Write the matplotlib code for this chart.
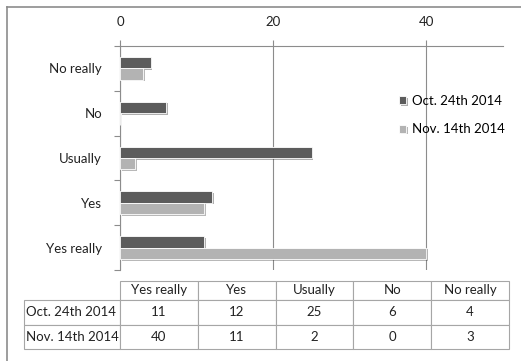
import matplotlib
matplotlib.use("Agg")
import matplotlib.pyplot as plt
import matplotlib.patheffects as pe
from matplotlib.lines import Line2D
import numpy as np

plt.rcParams["font.family"] = ["Lato", "DejaVu Sans"]

categories = ["Yes really", "Yes", "Usually", "No", "No really"]
series_names = ["Oct. 24th 2014", "Nov. 14th 2014"]
oct_values = [11, 12, 25, 6, 4]
nov_values = [40, 11, 2, 0, 3]
x_ticks = [0, 20, 40]

DARK = "#5c5c5c"
LIGHT = "#b3b3b3"
GRID = "#8c8c8c"
W, H = 521, 361

fig = plt.figure(figsize=(W / 100, H / 100), dpi=100)

# outer chart frame (only top and left edges are visible in the crop)
fig.add_artist(Line2D([7 / W, 1.0], [1 - 7 / H, 1 - 7 / H], color="#8c8c8c", lw=1.2))
fig.add_artist(Line2D([7 / W, 7 / W], [0.0, 1 - 7 / H], color="#8c8c8c", lw=1.2))

ax = fig.add_axes([120 / W, 1 - 270 / H, (503 - 120) / W, (270 - 46) / H])

y = np.arange(len(categories))
bh = 0.255
shadow = [pe.SimplePatchShadow(offset=(1.2, -1.2), alpha=0.35), pe.Normal()]
b1 = ax.barh(y + bh / 2, oct_values, height=bh, color=DARK, edgecolor="white", lw=0.6,
             label=series_names[0], zorder=3)
b2 = ax.barh(y - bh / 2, nov_values, height=bh, color=LIGHT, edgecolor="white", lw=0.6,
             label=series_names[1], zorder=3)
for bar in list(b1) + list(b2):
    if bar.get_width() > 0:
        bar.set_path_effects(shadow)

ax.set_xlim(0, 50)
ax.set_ylim(-0.5, len(categories) - 0.5)

ax.xaxis.tick_top()
ax.set_xticks(x_ticks)
ax.set_xticklabels([str(t) for t in x_ticks])
ax.tick_params(axis="x", direction="out", length=4, width=0.8, color=GRID, pad=9,
               labelsize=9.5, labelcolor="#222222")
ax.grid(axis="x", color=GRID, lw=0.8, zorder=0)

ax.set_yticks(np.arange(-0.5, len(categories), 1.0))
ax.set_yticklabels([])
ax.set_yticks(y, minor=True)
ax.set_yticklabels(categories, minor=True)
ax.tick_params(axis="y", which="major", direction="out", length=4, width=0.8, color=GRID)
ax.tick_params(axis="y", which="minor", length=0, pad=13, labelsize=9.5, labelcolor="#222222")

for side in ("right", "bottom"):
    ax.spines[side].set_visible(False)
for side in ("top", "left"):
    ax.spines[side].set_color(GRID)
    ax.spines[side].set_linewidth(0.8)

fig.legend(handles=[b1, b2], loc="upper left", bbox_to_anchor=(399 / W, 1 - 95 / H),
           frameon=False, fontsize=9.5, handlelength=0.55, handleheight=0.55,
           handletextpad=0.4, labelspacing=1.25, borderpad=0, borderaxespad=0)

# data table under the chart: first column holds the series names, corner cell is blank
tax = fig.add_axes([0, 0, 1, 1])
tax.axis("off")
tax.set_xlim(0, 1)
tax.set_ylim(0, 1)
rows = [[""] + categories]
for name, vals in zip(series_names, [oct_values, nov_values]):
    rows.append([name] + [str(v) for v in vals])
tbl = tax.table(cellText=rows, cellLoc="center",
                bbox=[24 / W, 1 - 349 / H, (509 - 24) / W, (349 - 281) / H])
tbl.auto_set_font_size(False)
tbl.set_fontsize(9.5)
for (r, c), cell in tbl.get_celld().items():
    cell.set_edgecolor("#a6a6a6")
    cell.set_linewidth(0.8)
    cell.set_width(96 if c == 0 else 77.8)
    cell.set_height(19 if r == 0 else 24.5)
    cell.get_text().set_color("#222222")
    if c == 0:
        cell.PAD = 0.02
        cell.get_text().set_horizontalalignment("left")
        cell._loc = "left"
    if r == 0 and c == 0:
        cell.visible_edges = "open"

fig.savefig("out.png", dpi=100)
